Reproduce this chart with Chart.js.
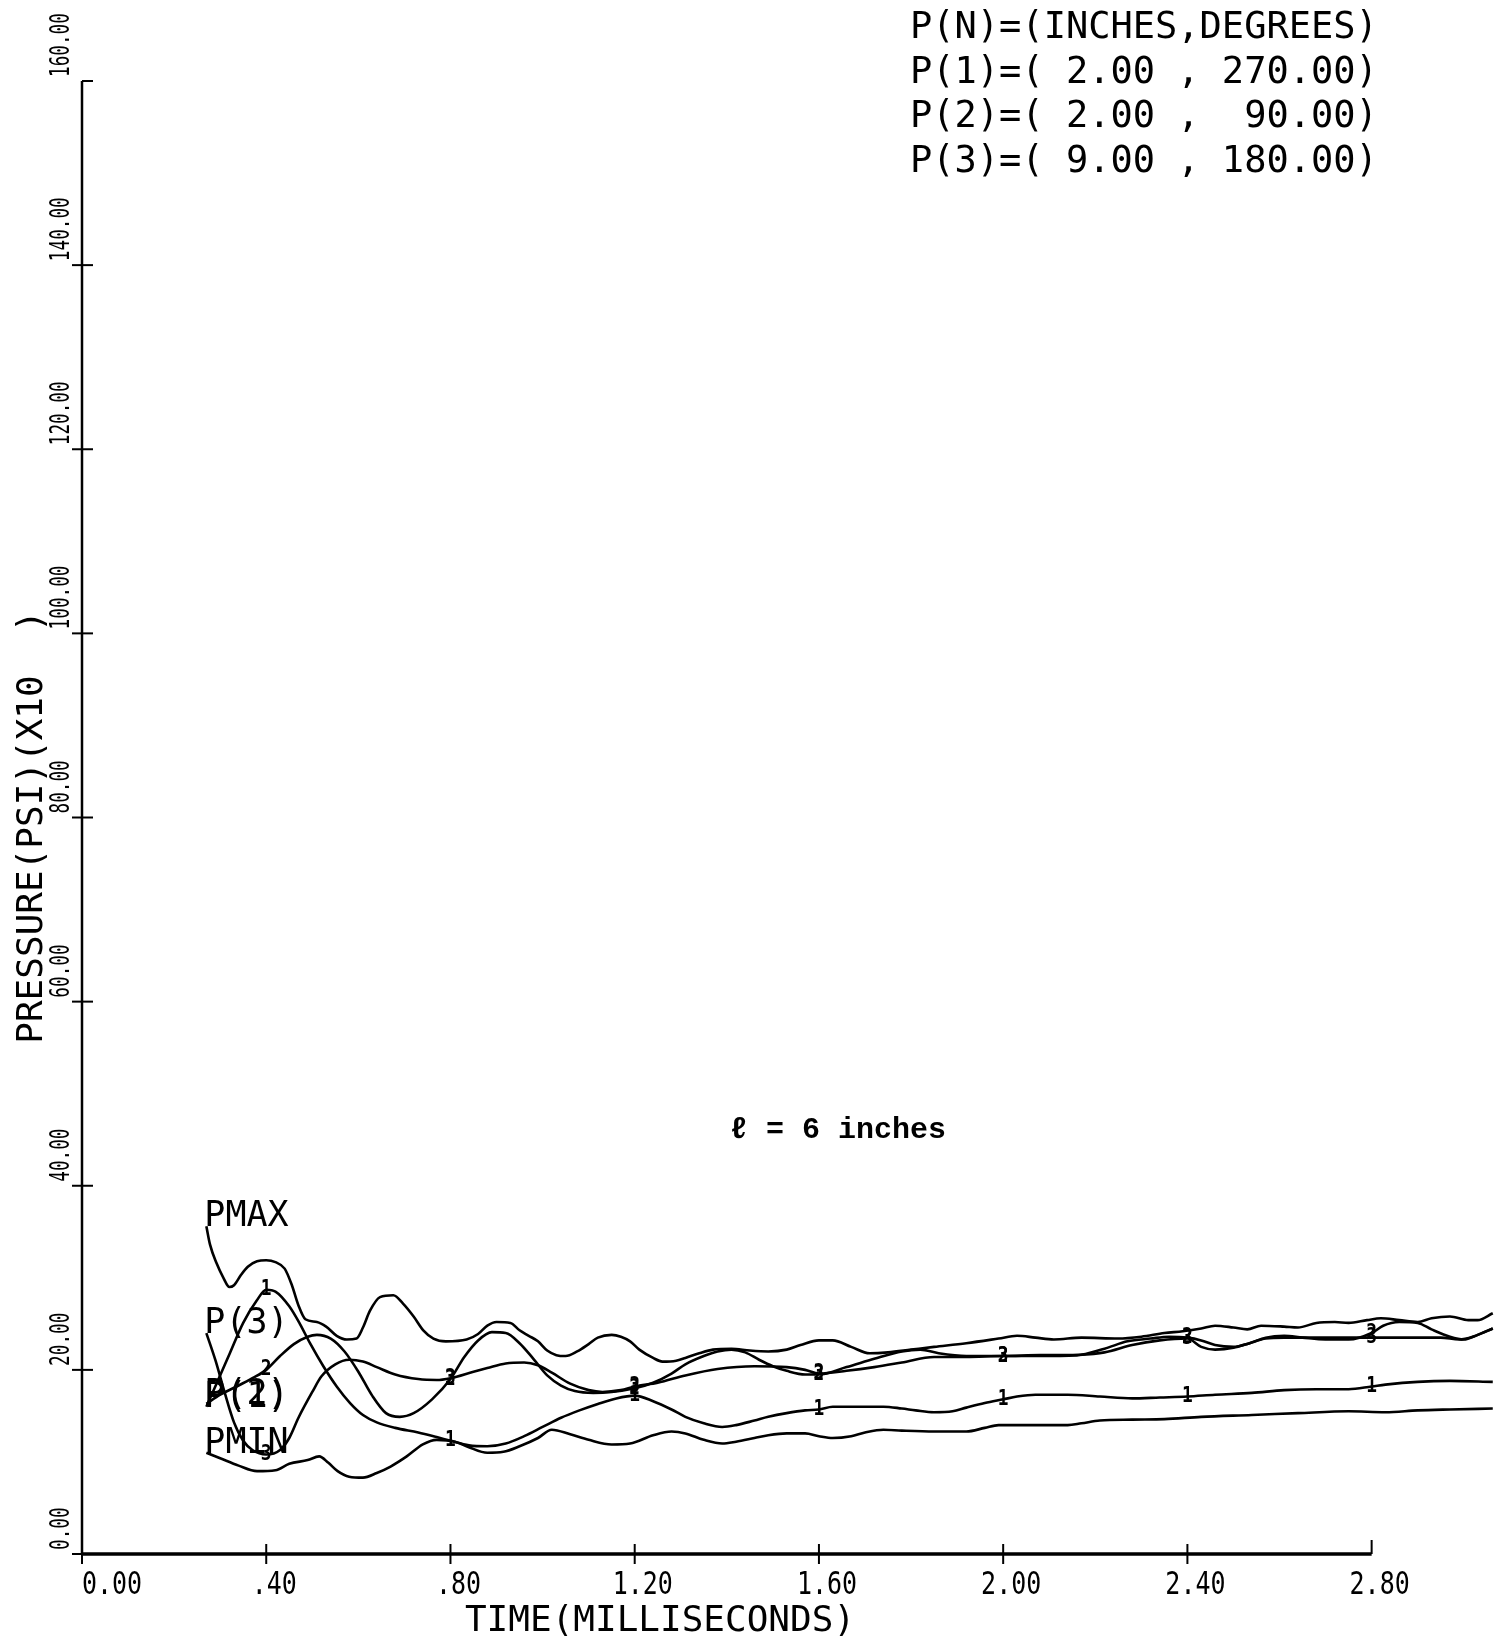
<!DOCTYPE html>
<html>
<head>
<meta charset="utf-8">
<title>Pressure history</title>
<script src="https://cdn.jsdelivr.net/npm/chart.js@4.4.1/dist/chart.umd.min.js"></script>
<style>
  html, body { margin: 0; padding: 0; background: #fff; }
  canvas { display: block; }
</style>
</head>
<body>
<canvas id="pressureChart" width="1505" height="1637"></canvas>
<script>
// Axis ticks: time in milliseconds, pressure in psi (x10)
const xTicks = [0, 0.4, 0.8, 1.2, 1.6, 2.0, 2.4, 2.8];
const xTickLabels = ['0.00', '.40', '.80', '1.20', '1.60', '2.00', '2.40', '2.80'];
const yTicks = [0, 20, 40, 60, 80, 100, 120, 140, 160];
const yTickLabels = ['0.00', '20.00', '40.00', '60.00', '80.00', '100.00', '120.00', '140.00', '160.00'];

// Gauge positions printed in the corner
const gaugeLines = [
  'P(N)=(INCHES,DEGREES)',
  'P(1)=( 2.00 , 270.00)',
  'P(2)=( 2.00 ,  90.00)',
  'P(3)=( 9.00 , 180.00)'
];

// Symbols are plotted on the gauge curves every 0.4 ms
const markerTimes = [0.4, 0.8, 1.2, 1.6, 2.0, 2.4, 2.8];

// [time ms, pressure] pairs
const pmax = [
  [0.27,35.6],[0.278,33.6],[0.292,31.6],[0.307,30.0],[0.32,29.0],[0.33,29.2],[0.345,30.3],[0.36,31.2],
  [0.38,31.8],[0.40,31.9],[0.42,31.7],[0.44,31.0],[0.455,29.3],[0.47,27.0],[0.485,25.5],[0.51,25.2],
  [0.53,24.7],[0.553,23.7],[0.575,23.3],[0.596,23.4],[0.61,24.6],[0.625,26.4],[0.647,27.9],[0.676,28.1],
  [0.697,27.2],[0.72,25.8],[0.741,24.3],[0.763,23.4],[0.79,23.1],[0.835,23.3],[0.86,23.9],[0.88,24.8],
  [0.90,25.2],[0.93,25.1],[0.95,24.3],[0.97,23.7],[0.99,23.1],[1.01,22.1],[1.03,21.6],[1.05,21.5],
  [1.075,22.0],[1.10,22.8],[1.12,23.5],[1.15,23.8],[1.17,23.6],[1.19,23.1],[1.21,22.2],[1.24,21.3],
  [1.26,20.9],[1.29,21.0],[1.31,21.3],[1.34,21.8],[1.37,22.2],[1.41,22.3],[1.45,22.1],[1.49,22.0],
  [1.53,22.2],[1.56,22.7],[1.60,23.2],[1.63,23.2],[1.67,22.5],[1.71,21.8],[1.75,21.9],[1.80,22.2],
  [1.85,22.5],[1.92,22.9],[1.99,23.4],[2.03,23.7],[2.07,23.5],[2.11,23.3],[2.17,23.5],[2.25,23.4],
  [2.30,23.6],[2.35,24.0],[2.39,24.2],[2.43,24.5],[2.46,24.8],[2.50,24.6],[2.53,24.4],[2.56,24.8],
  [2.61,24.7],[2.64,24.6],[2.68,25.1],[2.72,25.2],[2.75,25.1],[2.79,25.4],[2.82,25.6],[2.86,25.4],
  [2.90,25.2],[2.93,25.6],[2.97,25.8],[3.01,25.4],[3.03,25.4],[3.063,26.15]
];

const p1 = [
  [0.27,16.0],[0.292,18.5],[0.321,21.8],[0.35,25.1],[0.379,27.5],[0.40,28.7],[0.42,28.5],[0.45,26.9],
  [0.473,25.0],[0.495,22.9],[0.524,20.4],[0.553,18.2],[0.582,16.4],[0.61,15.1],[0.64,14.3],[0.68,13.7],
  [0.73,13.2],[0.77,12.7],[0.80,12.3],[0.84,11.8],[0.88,11.7],[0.92,12.0],[0.96,12.8],[1.00,13.8],
  [1.04,14.8],[1.08,15.6],[1.12,16.3],[1.16,16.9],[1.20,17.2],[1.24,16.6],[1.28,15.7],[1.31,14.9],
  [1.35,14.2],[1.39,13.8],[1.42,14.0],[1.46,14.5],[1.49,14.9],[1.53,15.3],[1.57,15.6],[1.60,15.7],
  [1.63,16.0],[1.70,16.0],[1.74,16.0],[1.78,15.8],[1.81,15.6],[1.85,15.4],[1.89,15.5],[1.92,15.9],
  [1.96,16.4],[2.00,16.8],[2.03,17.1],[2.07,17.3],[2.14,17.3],[2.21,17.1],[2.28,16.9],[2.34,17.0],
  [2.40,17.1],[2.46,17.3],[2.54,17.5],[2.61,17.8],[2.68,17.9],[2.75,17.9],[2.80,18.2],[2.83,18.4],
  [2.90,18.7],[2.97,18.8],[3.063,18.7]
];

const p2 = [
  [0.27,16.3],[0.30,17.3],[0.34,18.3],[0.37,19.1],[0.40,20.0],[0.43,21.5],[0.46,22.8],[0.49,23.6],
  [0.51,23.8],[0.54,23.4],[0.57,22.0],[0.60,19.8],[0.63,17.2],[0.66,15.3],[0.69,14.9],[0.72,15.3],
  [0.76,16.8],[0.80,19.0],[0.83,21.4],[0.86,23.2],[0.89,24.1],[0.92,24.0],[0.95,22.9],[0.98,21.2],
  [1.01,19.4],[1.04,18.3],[1.07,17.7],[1.11,17.5],[1.15,17.6],[1.20,18.0],[1.24,18.6],[1.28,19.6],
  [1.31,20.6],[1.35,21.5],[1.38,22.0],[1.41,22.2],[1.44,21.9],[1.47,21.1],[1.50,20.4],[1.53,19.9],
  [1.57,19.5],[1.60,19.5],[1.66,20.3],[1.72,21.2],[1.78,22.0],[1.82,22.2],[1.86,21.8],[1.92,21.5],
  [2.00,21.5],[2.08,21.6],[2.16,21.6],[2.22,22.3],[2.27,23.1],[2.32,23.4],[2.36,23.6],[2.40,23.5],
  [2.43,23.2],[2.46,22.7],[2.50,22.5],[2.535,22.9],[2.57,23.5],[2.61,23.7],[2.65,23.5],[2.70,23.3],
  [2.75,23.3],[2.80,24.0],[2.825,24.8],[2.86,25.2],[2.90,25.1],[2.93,24.4],[2.97,23.6],[3.00,23.3],
  [3.03,23.8],[3.063,24.5]
];

const p3 = [
  [0.27,24.0],[0.29,21.0],[0.31,17.5],[0.33,14.3],[0.35,12.3],[0.37,11.3],[0.40,10.8],[0.43,11.3],
  [0.45,12.6],[0.47,14.8],[0.50,17.6],[0.52,19.3],[0.55,20.6],[0.58,21.1],[0.61,20.9],[0.64,20.3],
  [0.68,19.5],[0.73,19.0],[0.77,18.9],[0.80,19.1],[0.85,19.8],[0.88,20.2],[0.92,20.7],[0.96,20.8],
  [0.99,20.5],[1.02,19.7],[1.06,18.5],[1.10,17.8],[1.13,17.6],[1.17,17.8],[1.20,18.2],[1.25,18.6],
  [1.31,19.4],[1.38,20.1],[1.46,20.4],[1.53,20.3],[1.57,20.0],[1.60,19.6],[1.66,19.9],[1.72,20.3],
  [1.78,20.8],[1.85,21.4],[1.92,21.4],[2.00,21.5],[2.08,21.5],[2.16,21.6],[2.22,21.9],[2.28,22.7],
  [2.34,23.2],[2.40,23.4],[2.43,22.5],[2.46,22.2],[2.50,22.4],[2.535,22.9],[2.57,23.4],[2.61,23.5],
  [2.70,23.5],[2.80,23.5],[2.90,23.5],[2.95,23.5],[2.99,23.3],[3.02,23.6],[3.063,24.5]
];

const pmin = [
  [0.27,11.0],[0.30,10.4],[0.34,9.6],[0.38,9.0],[0.42,9.1],[0.45,9.8],[0.49,10.2],[0.515,10.6],
  [0.535,9.9],[0.555,9.0],[0.58,8.4],[0.61,8.3],[0.64,8.8],[0.67,9.5],[0.705,10.6],[0.74,11.9],
  [0.77,12.4],[0.81,12.2],[0.84,11.6],[0.88,11.0],[0.915,11.1],[0.95,11.7],[0.99,12.6],[1.02,13.5],
  [1.06,13.0],[1.10,12.4],[1.15,11.9],[1.19,12.0],[1.24,12.9],[1.28,13.3],[1.31,13.1],[1.35,12.4],
  [1.39,12.0],[1.42,12.2],[1.46,12.6],[1.49,12.9],[1.53,13.1],[1.57,13.1],[1.60,12.8],[1.63,12.6],
  [1.67,12.8],[1.70,13.2],[1.74,13.5],[1.78,13.4],[1.85,13.3],[1.92,13.3],[1.96,13.7],[1.99,14.0],
  [2.07,14.0],[2.14,14.0],[2.17,14.2],[2.21,14.5],[2.28,14.6],[2.35,14.65],[2.43,14.9],[2.54,15.1],
  [2.64,15.3],[2.75,15.5],[2.83,15.4],[2.90,15.6],[2.97,15.7],[3.063,15.8]
];

const seriesNames = ['PMAX', 'P(3)', 'P(1)', 'P(2)', 'PMIN'];
const seriesData = [pmax, p3, p1, p2, pmin];
const seriesSymbols = [null, '3', '1', '2', null];

const MONO = '"DejaVu Sans Mono", "Liberation Mono", monospace';

function plotText(ctx, str, x, y, size, opts = {}) {
  ctx.save();
  ctx.translate(x, y);
  if (opts.rotate) ctx.rotate(opts.rotate);
  ctx.scale(opts.sx || 1, 1);
  ctx.font = (opts.weight || 'normal') + ' ' + size + 'px ' + (opts.family || MONO);
  ctx.textAlign = opts.align || 'left';
  ctx.textBaseline = opts.baseline || 'alphabetic';
  ctx.fillStyle = '#000';
  ctx.fillText(str, 0, 0);
  ctx.restore();
}

// Plotter-style axes: lines with crossing tick marks and rotated pressure labels
const plotterAxes = {
  id: 'plotterAxes',
  beforeDatasetsDraw(chart) {
    const ctx = chart.ctx;
    const xs = chart.scales.x, ys = chart.scales.y;
    const x0 = xs.getPixelForValue(xTicks[0]);
    const xEnd = xs.getPixelForValue(xTicks[xTicks.length - 1]);
    const y0 = ys.getPixelForValue(yTicks[0]);
    const yTop = ys.getPixelForValue(yTicks[yTicks.length - 1]);

    ctx.save();
    ctx.strokeStyle = '#000';
    ctx.lineCap = 'butt';

    ctx.lineWidth = 2.5;
    ctx.beginPath();
    ctx.moveTo(x0, y0);
    ctx.lineTo(x0, yTop);
    ctx.stroke();

    ctx.lineWidth = 3.5;
    ctx.beginPath();
    ctx.moveTo(x0, y0);
    ctx.lineTo(xEnd, y0);
    ctx.stroke();

    ctx.lineWidth = 2;
    yTicks.forEach((v, i) => {
      const py = ys.getPixelForValue(v);
      const last = i === yTicks.length - 1;
      ctx.beginPath();
      ctx.moveTo(last ? x0 : x0 - 10, py);
      ctx.lineTo(x0 + 11, py);
      ctx.stroke();
      plotText(ctx, yTickLabels[i], 69, py - 4, 26, { rotate: -Math.PI / 2, sx: 0.68 });
    });

    xTicks.forEach((t, i) => {
      const px = xs.getPixelForValue(t);
      const last = i === xTicks.length - 1;
      ctx.beginPath();
      ctx.moveTo(px, y0 - (last ? 14 : 10));
      ctx.lineTo(px, last ? y0 : y0 + 10);
      ctx.stroke();
      if (i === 0) {
        plotText(ctx, xTickLabels[i], px, 1594, 32, { sx: 0.78 });
      } else {
        plotText(ctx, xTickLabels[i], px + 8, 1594, 32, { sx: 0.78, align: 'center' });
      }
    });
    ctx.restore();

    // axis titles
    plotText(ctx, 'TIME(MILLISECONDS)', 660, 1631, 36, { align: 'center' });
    plotText(ctx, 'PRESSURE(PSI)(X10  )', 42, 827, 36, { rotate: -Math.PI / 2, align: 'center' });

    // gauge table in the upper right
    gaugeLines.forEach((line, i) => {
      plotText(ctx, line, 910, 38 + i * 44.5, 37);
    });

    plotText(ctx, '\u2113 = 6 inches', 730, 1138, 30,
      { weight: 'bold', family: '"Liberation Mono", "Courier New", monospace' });
  },

  // curve names at the start of each trace, symbols along the gauge traces
  afterDatasetsDraw(chart) {
    const ctx = chart.ctx;
    chart.data.datasets.forEach((ds, di) => {
      const meta = chart.getDatasetMeta(di);
      const first = meta.data[0];
      plotText(ctx, ds.label, first.x - 2, first.y, 35);
      if (!ds.symbol) return;
      ds.data.forEach((pt, pi) => {
        if (!markerTimes.some(t => Math.abs(t - pt.x) < 1e-6)) return;
        const el = meta.data[pi];
        plotText(ctx, ds.symbol, el.x, el.y, 21, { weight: 'bold', align: 'center', baseline: 'middle', sx: 0.85 });
      });
    });
  }
};

new Chart(document.getElementById('pressureChart'), {
  type: 'line',
  data: {
    datasets: seriesNames.map((name, i) => ({
      label: name,
      symbol: seriesSymbols[i],
      data: seriesData[i].map(([t, p]) => ({ x: t, y: p })),
      borderColor: '#000',
      borderWidth: 2.6,
      pointRadius: 0,
      cubicInterpolationMode: 'monotone',
      fill: false
    }))
  },
  options: {
    responsive: false,
    animation: false,
    events: [],
    layout: { padding: { left: 82, right: 9, top: 81, bottom: 83 } },
    plugins: { legend: { display: false }, tooltip: { enabled: false } },
    scales: {
      x: { type: 'linear', min: 0, max: 3.07, display: false },
      y: { type: 'linear', min: 0, max: 160, display: false }
    }
  },
  plugins: [plotterAxes]
});
</script>
</body>
</html>
